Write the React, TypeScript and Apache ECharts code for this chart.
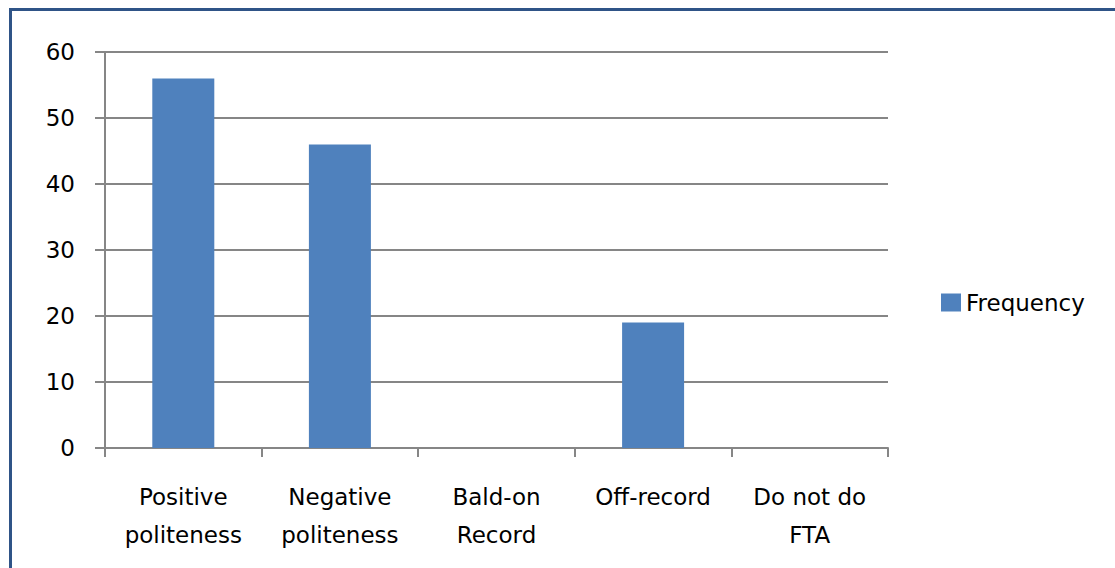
import React, { useEffect, useRef } from "react";
import * as echarts from "echarts";

const categories = ["Positive\npoliteness", "Negative\npoliteness", "Bald-on\nRecord", "Off-record", "Do not do\nFTA"];
const frequency = [56, 46, 0, 19, 0];
const seriesName = "Frequency";

export default function App() {
  const ref = useRef<HTMLDivElement>(null);
  useEffect(() => {
    const chart = echarts.init(ref.current!, null, { renderer: "svg" });
    const font = "DejaVu Sans, sans-serif";
    chart.setOption({
      animation: false,
      backgroundColor: "#ffffff",
      textStyle: { fontFamily: font },
      graphic: [
        {
          type: "rect",
          shape: { x: 10.5, y: 9.5, width: 1200, height: 700 },
          style: { fill: "none", stroke: "#2f5487", lineWidth: 3 },
          silent: true,
          z: 100,
        },
      ],
      legend: {
        left: 936,
        top: 286,
        orient: "vertical",
        icon: "rect",
        itemWidth: 20,
        itemHeight: 18,
        itemGap: 6,
        textStyle: { fontSize: 23, color: "#000", fontFamily: font },
        data: [seriesName],
      },
      grid: { left: 105, right: 227, top: 52, bottom: 120 },
      xAxis: {
        type: "category",
        data: categories,
        boundaryGap: true,
        axisLine: { lineStyle: { color: "#868686", width: 2 } },
        axisTick: { show: true, length: 9, alignWithLabel: false, lineStyle: { color: "#868686", width: 2 } },
        axisLabel: { color: "#000", fontSize: 23, lineHeight: 38, margin: 30, interval: 0, fontFamily: font },
      },
      yAxis: {
        type: "value",
        min: 0,
        max: 60,
        interval: 10,
        axisLine: { show: true, lineStyle: { color: "#868686", width: 2 } },
        axisTick: { show: true, length: 10, lineStyle: { color: "#868686", width: 2 } },
        axisLabel: { color: "#000", fontSize: 23, margin: 30, fontFamily: font },
        splitLine: { show: true, lineStyle: { color: "#868686", width: 2 } },
      },
      series: [
        {
          name: seriesName,
          type: "bar",
          data: frequency,
          barWidth: 62,
          itemStyle: { color: "#4f81bd" },
        },
      ],
    });
    return () => chart.dispose();
  }, []);
  return <div ref={ref} style={{ position: "absolute", left: 0, top: 0, width: 1115, height: 568 }} />;
}
